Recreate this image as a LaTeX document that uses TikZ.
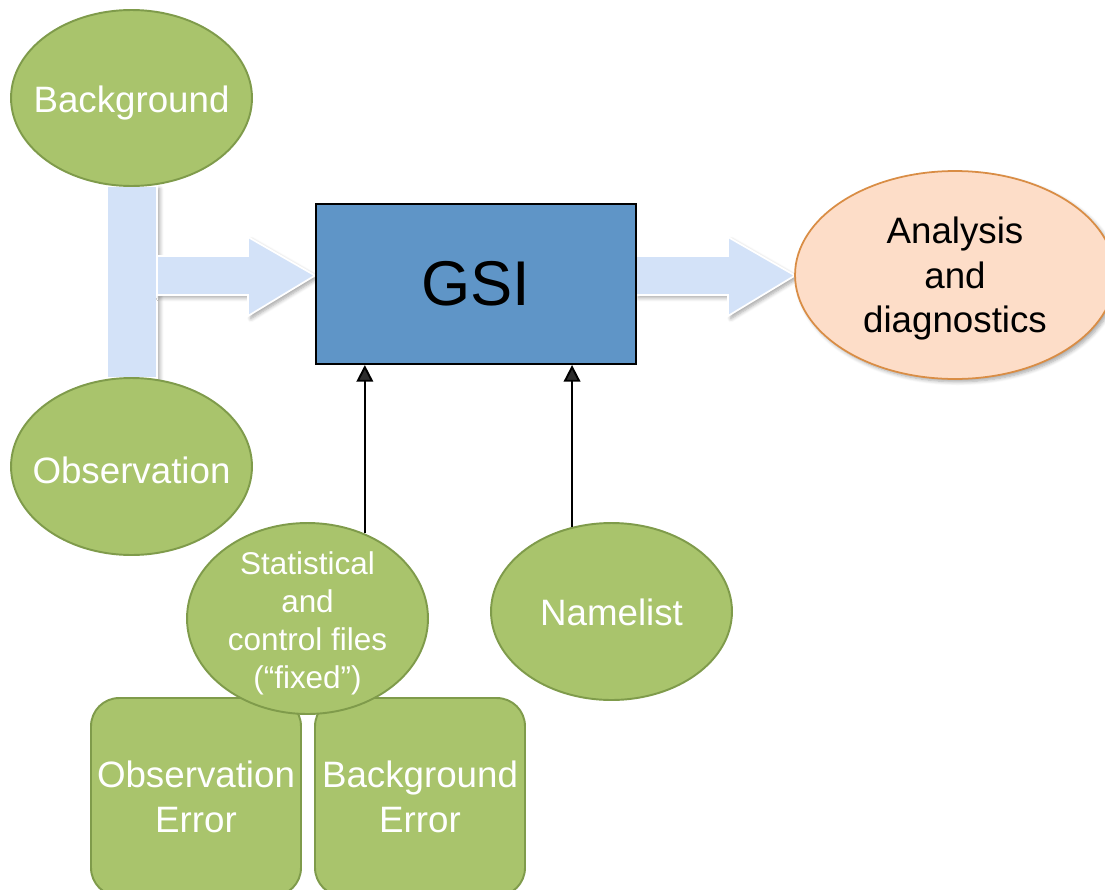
\documentclass[tikz,border=0pt]{standalone}
\usepackage{fontspec}
\setmainfont{Liberation Sans}
\usetikzlibrary{shapes.geometric,shadows.blur,arrows.meta,calc}
\definecolor{leaf}{HTML}{A9C46C}
\definecolor{leafedge}{HTML}{7F9B4B}
\definecolor{gsiblue}{HTML}{5F95C7}
\definecolor{flowfill}{HTML}{D3E2F8}
\definecolor{peach}{HTML}{FDDDC8}
\definecolor{peachedge}{HTML}{D98D45}
\begin{document}
\begin{tikzpicture}[x=0.02cm,y=-0.02cm,
  softshadow/.style={blur shadow={shadow xshift=1.6pt,shadow yshift=-1.6pt,shadow blur steps=6,shadow opacity=35}},
  greenoval/.style={ellipse,draw=leafedge,line width=1.1pt,fill=leaf,inner sep=0pt,minimum width=4.82cm},
  ovaltext/.style={text=white,inner sep=0pt,align=center,yshift=-2pt,font=\fontsize{20.9}{25.2}\selectfont},
  smalltext/.style={text=white,inner sep=0pt,align=center,yshift=-2.8pt,font=\fontsize{17.9}{21.5}\selectfont},
  errbox/.style={rectangle,rounded corners=16pt,draw=leafedge,line width=1.1pt,fill=leaf,
    text=white,inner sep=0pt,minimum width=4.2cm,minimum height=3.96cm,align=center,
    font=\fontsize{20.9}{25.2}\selectfont},
  flow/.style={fill=flowfill,draw=white,line width=1pt,softshadow},
  feed/.style={line width=1.1pt,-{Triangle[length=9.5pt,width=9.5pt]}}]
\useasboundingbox (0,0) rectangle (1105,889);
\clip (0,0) rectangle (1105,889);

% merge bar joining the two inputs
\path[flow] (107,186) rectangle (157,378);

% block arrow into GSI
\path[flow] (157,256) -- (248,256) -- (248,237) -- (315,275.5) -- (248,316) -- (248,295) -- (157,295) -- cycle;

% block arrow out of GSI
\path[flow] (636,256) -- (728,256) -- (728,237) -- (795,275.5) -- (728,316) -- (728,295) -- (636,295) -- cycle;

% input ovals
\node[greenoval,minimum height=3.52cm,label={[ovaltext,yshift=-1pt]center:Background}] (bg) at (131.5,98) {};
\node[greenoval,minimum height=3.54cm,label={[ovaltext]center:Observation}] (obs) at (131.5,466.5) {};

% central box
\node[rectangle,draw=black,line width=1.2pt,fill=gsiblue,minimum width=6.4cm,minimum height=3.2cm,
  inner sep=0pt,font=\fontsize{36}{40}\selectfont] (gsi) at (476,284) {GSI};

% output oval
\node[ellipse,draw=peachedge,line width=1pt,fill=peach,inner sep=0pt,minimum width=6.4cm,
  minimum height=4.16cm,softshadow,
  label={[ovaltext,text=black]center:Analysis\\and\\diagnostics}] (ana) at (955,275) {};

% error files
\node[errbox] (oerr) at (196,797) {Observation\\Error};
\node[errbox] (berr) at (420,797) {Background\\Error};

% fixed files and namelist
\node[greenoval,minimum height=3.82cm,
  label={[smalltext]center:Statistical\\and\\control files\\(“fixed”)}] (fix) at (307.5,618.5) {};
\node[greenoval,minimum height=3.54cm,label={[ovaltext,yshift=1.5pt]center:Namelist}] (nml) at (611.5,611.5) {};

% feeds into GSI
\draw[feed] (fix.56.8) -- (fix.56.8 |- gsi.south);
\draw[feed] (nml.115.3) -- (nml.115.3 |- gsi.south);
\end{tikzpicture}
\end{document}
